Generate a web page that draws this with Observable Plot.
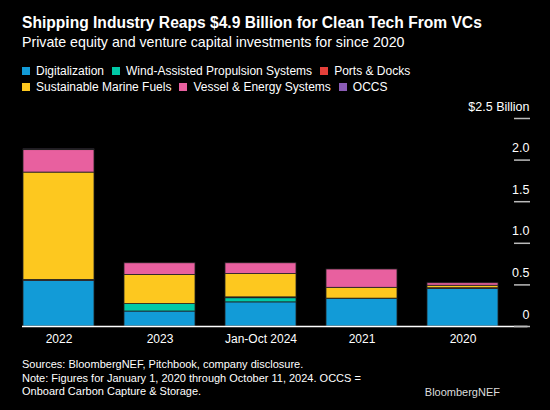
<!DOCTYPE html>
<html><head><meta charset="utf-8">
<script src="https://cdn.jsdelivr.net/npm/d3@7"></script>
<script src="https://cdn.jsdelivr.net/npm/@observablehq/plot@0.6"></script>
<style>
body{margin:0;background:#000;color:#fff;font-family:"Liberation Sans",Arial,sans-serif;}
#wrap{position:relative;width:550px;height:410px;background:#000;overflow:hidden}
.title{position:absolute;left:22px;top:14px;font-weight:bold;font-size:15.6px;line-height:18px;white-space:nowrap}
.sub{position:absolute;left:22px;top:34px;font-size:14.2px;line-height:17px;white-space:nowrap}
.leg{position:absolute;left:22px;font-size:12px;line-height:16px;white-space:nowrap;display:flex}
.item{display:flex;align-items:center;margin-right:8px}
.sw{width:8px;height:8px;margin-right:6px}
#chart{position:absolute;left:0;top:96px}
.foot{position:absolute;left:22px;top:358px;font-size:11px;line-height:13.7px;white-space:nowrap}
.brand{position:absolute;right:50px;top:385px;font-size:11px;line-height:14px;color:#ddd}
</style></head>
<body><div id="wrap">
<div class="title">Shipping Industry Reaps $4.9 Billion for Clean Tech From VCs</div>
<div class="sub">Private equity and venture capital investments for since 2020</div>
<div class="leg" id="leg1" style="top:63px"></div>
<div class="leg" id="leg2" style="top:79px"></div>
<div id="chart"></div>
<div class="foot">Sources: BloombergNEF, Pitchbook, company disclosure.<br>Note: Figures for January 1, 2020 through October 11, 2024. OCCS =<br>Onboard Carbon Capture &amp; Storage.</div>
<div class="brand">BloombergNEF</div>
</div>
<script>
const years = ["2022", "2023", "Jan-Oct 2024", "2021", "2020"];
const categories = ["Digitalization", "Wind-Assisted Propulsion Systems", "Ports & Docks", "Sustainable Marine Fuels", "Vessel & Energy Systems", "OCCS"];
const colors = ["#129bd7", "#00c9a7", "#e5403a", "#fdc81f", "#e8609f", "#8a5bb5"];
const digitalization = [0.55, 0.18, 0.29, 0.33, 0.45];
const windAssisted = [0, 0.09, 0.05, 0.005, 0];
const portsDocks = [0.01, 0, 0.01, 0, 0.01];
const marineFuels = [1.29, 0.35, 0.28, 0.13, 0.03];
const vesselEnergy = [0.27, 0.14, 0.13, 0.22, 0.03];
const occs = [0.01, 0, 0, 0, 0];
const yTicks = [0, 0.5, 1, 1.5, 2, 2.5];

const series = [digitalization, windAssisted, portsDocks, marineFuels, vesselEnergy, occs];
const data = years.flatMap((yr, i) => categories.map((c, j) => ({year: yr, category: c, value: series[j][i]})));

function legendRow(el, cats) {
  cats.forEach(c => {
    const it = document.createElement("div"); it.className = "item";
    const sw = document.createElement("div"); sw.className = "sw";
    sw.style.background = colors[categories.indexOf(c)];
    const t = document.createElement("span"); t.textContent = c;
    it.appendChild(sw); it.appendChild(t); el.appendChild(it);
  });
}
legendRow(document.getElementById("leg1"), categories.slice(0, 3));
legendRow(document.getElementById("leg2"), categories.slice(3));

const chart = Plot.plot({
  width: 550, height: 258,
  marginTop: 22, marginBottom: 28, marginLeft: 22, marginRight: 50.5,
  style: {background: "#000", color: "#fff", fontFamily: "'Liberation Sans', Arial, sans-serif", fontSize: "12px"},
  x: {domain: years, paddingInner: 0.3, paddingOuter: 0, label: null},
  y: {domain: [0, 2.5], label: null},
  color: {domain: categories, range: colors},
  marks: [
    Plot.barY(data, {x: "year", y: "value", fill: "category", stroke: "#222", strokeWidth: 0.8}),
    Plot.ruleY([0], {stroke: "#fff", strokeWidth: 1.5, insetRight: -28}),
    Plot.axisX({tickSize: 0, tickPadding: 8, fontSize: 12, label: null}),
    Plot.axisY({anchor: "right", ticks: yTicks, tickSize: 16, dx: 13.5, stroke: "#bbb", strokeWidth: 1.5, tickFormat: () => "", label: null}),
    Plot.axisY({anchor: "right", ticks: yTicks, tickSize: 0, tickPadding: 0, dx: 29.5, dy: -12, textAnchor: "end", fontSize: 12.5, label: null,
      tickFormat: d => d === 2.5 ? "$2.5 Billion" : d === 0 ? "0" : d.toFixed(1)})
  ]
});
document.getElementById("chart").appendChild(chart);
</script>
</body></html>
